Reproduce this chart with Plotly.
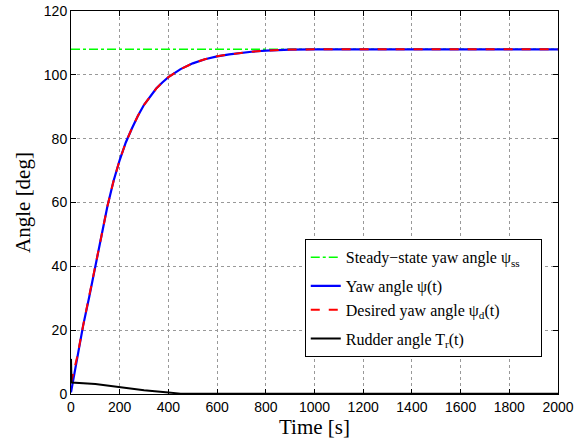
import plotly.graph_objects as go

# time axis [s]
t = [0, 25, 50, 75, 100, 125, 150, 175, 200, 225, 250, 275, 300, 325, 350, 375,
     400, 450, 500, 550, 600, 650, 700, 750, 800, 850, 900, 1000, 2000]
# yaw angle psi(t) [deg]
yaw = [0.5, 11, 21.5, 30.5, 39.5, 49.5, 59, 66.8, 73.3, 78.8, 83.2, 87.2, 90.6, 93.3,
       95.7, 97.6, 99.3, 101.8, 103.6, 104.9, 105.8, 106.4, 106.9, 107.3, 107.6,
       107.8, 107.9, 108, 108]
# desired yaw angle psi_d(t) [deg]
yaw_d = [3.5, 11.5, 21.5, 30.5, 39.5, 49.5, 59, 66.8, 73.3, 78.8, 83.2, 87.2, 90.6, 93.3,
         95.7, 97.6, 99.3, 101.8, 103.6, 104.9, 105.8, 106.4, 106.9, 107.3, 107.6,
         107.8, 107.9, 108, 108]
# rudder angle
t_r = [0, 2, 100, 200, 300, 400, 450, 2000]
rudder = [11, 3.6, 3.1, 2.1, 1.15, 0.5, 0.1, 0.1]
psi_ss = 108

serif = "Liberation Serif"
sans = "Liberation Sans"

fig = go.Figure()
fig.add_trace(go.Scatter(x=[0, 2000], y=[psi_ss, psi_ss], mode="lines",
                         name="Steady\u2212state yaw angle \u03c8<sub>ss</sub>\u2002\u2002\u200b",
                         legendgroup="a",
                         line=dict(color="#00ff00", width=1.5, dash="dashdot")))
fig.add_trace(go.Scatter(x=t, y=yaw, mode="lines", name="Yaw angle \u03c8(t)",
                         legendgroup="b",
                         line=dict(color="#0000ff", width=2.2)))
fig.add_trace(go.Scatter(x=t, y=yaw_d, mode="lines",
                         name="Desired yaw angle \u03c8<sub>d</sub>(t)",
                         legendgroup="b",
                         line=dict(color="#ff0000", width=2, dash="dash")))
fig.add_trace(go.Scatter(x=t_r, y=rudder, mode="lines",
                         name="Rudder angle T<sub>r</sub>(t)",
                         legendgroup="c",
                         line=dict(color="black", width=2)))

axis = dict(showline=True, linecolor="black", linewidth=1, mirror="ticks",
            ticks="inside", ticklen=5, tickcolor="black", automargin=False,
            showgrid=True, gridcolor="#999999", griddash="dot", gridwidth=1,
            zeroline=False, tickfont=dict(family=sans, size=14, color="black"))

fig.update_layout(
    width=585, height=441,
    margin=dict(l=71, r=27, t=11, b=47),
    paper_bgcolor="white", plot_bgcolor="white",
    xaxis=dict(axis, range=[0, 2000], dtick=200,
               title=dict(text="Time [s]", font=dict(family=serif, size=21, color="black"),
                          standoff=3)),
    yaxis=dict(axis, range=[0, 120], dtick=20,
               title=dict(text="Angle [deg]", font=dict(family=serif, size=21, color="black"),
                          standoff=7)),
    legend=dict(x=0.48, y=0.404, xanchor="left", yanchor="top",
                bgcolor="white", bordercolor="black", borderwidth=1,
                font=dict(family=serif, size=16, color="black"),
                traceorder="grouped", tracegroupgap=5),
    showlegend=True,
)

# drop the default body margin so the figure sits at the page corner
fig.write_html("out.html", config={"displayModeBar": False},
               post_script="document.body.style.margin='0';")
